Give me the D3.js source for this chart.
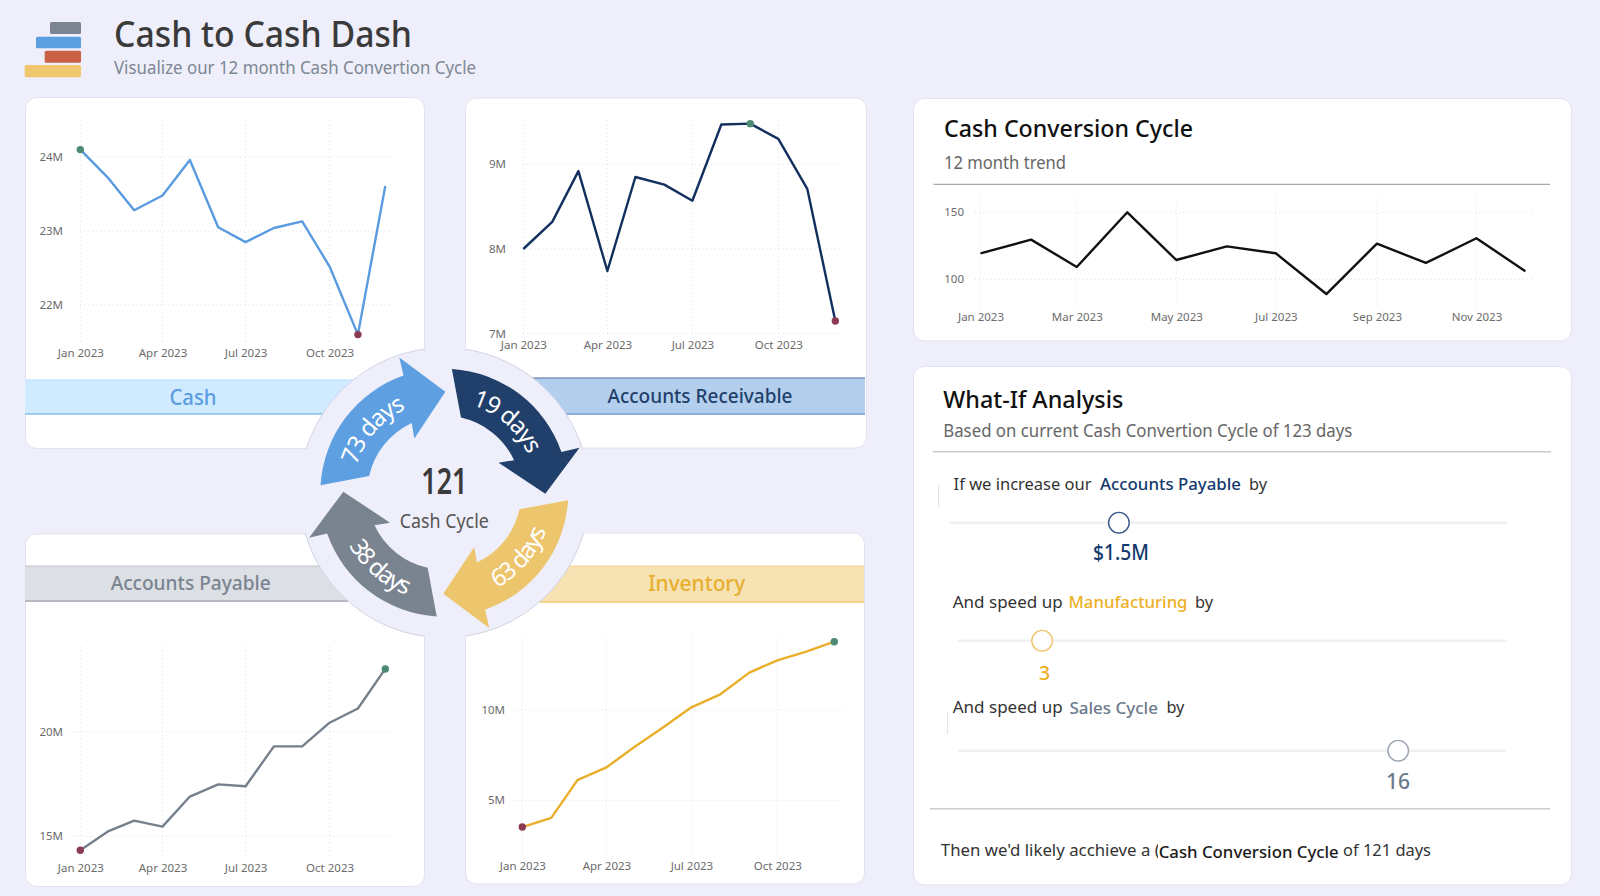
<!DOCTYPE html>
<html>
<head>
<meta charset="utf-8">
<title>Cash to Cash Dash</title>
<script src="https://cdn.jsdelivr.net/npm/d3@7"></script>
<style>
  body { margin: 0; background: #eeeffa; }
  text { font-family: "Noto Sans", "Open Sans", sans-serif; }
</style>
</head>
<body>
<div id="dash"></div>
<script>
// Data
const months = d3.range(12).map(i => new Date(2023, i, 1));
const cashValues = [24.10, 23.71, 23.28, 23.48, 23.96, 23.05, 22.85, 23.04, 23.13, 22.52, 21.60, 23.61];
const receivableValues = [8.00, 8.32, 8.92, 7.74, 8.85, 8.76, 8.57, 9.47, 9.48, 9.30, 8.71, 7.15];
const payableValues = [14.33, 15.25, 15.75, 15.46, 16.90, 17.48, 17.39, 19.30, 19.30, 20.43, 21.11, 23.00];
const inventoryValues = [3.52, 4.03, 6.12, 6.82, 7.95, 9.04, 10.15, 10.87, 12.07, 12.75, 13.23, 13.78];
const cycleValues = [119.4, 129.6, 109.2, 150, 114.4, 124.6, 119.4, 89, 126.6, 112.2, 130.6, 106];

const quarterTicks = [0, 3, 6, 9].map(i => months[i]);
const evenMonthTicks = [0, 2, 4, 6, 8, 10].map(i => months[i]);
const cashTicks = [22, 23, 24];
const receivableTicks = [7, 8, 9];
const payableTicks = [15, 20];
const inventoryTicks = [5, 10];
const cycleTicks = [100, 150];

const arrowLabels = ["73 days", "19 days", "63 days", "38 days"];
const arrowColors = ["#5e9fe2", "#213f6b", "#edc56d", "#7a8491"];

const sliderValues = [1.5, 3, 16];
const sliderLabels = ["$1.5M", "3", "16"];
const sliderMax = [5, 20, 20];

const bg = "#eeeffa";
const svg = d3.select("#dash").append("svg")
    .attr("width", 1600)
    .attr("height", 896)
    .style("display", "block");

svg.append("rect").attr("width", 1600).attr("height", 896).attr("fill", bg);

// Text helper, width squeezes the text to the measured width of the reference
function label(x, y, str, o = {}) {
  const t = svg.append("text")
      .attr("x", x)
      .attr("y", y)
      .attr("dy", "0.35em")
      .attr("text-anchor", o.anchor || "start")
      .attr("fill", o.fill || "#333")
      .attr("font-size", o.size || 18)
      .attr("font-weight", o.weight || 400)
      .text(str);
  if (o.width) t.attr("textLength", o.width).attr("lengthAdjust", "spacingAndGlyphs");
  return t;
}

function card(x, y, w, h) {
  svg.append("rect")
      .attr("x", x).attr("y", y).attr("width", w).attr("height", h)
      .attr("rx", 11)
      .attr("fill", "#fff")
      .attr("stroke", "#e2e3f0");
}

// Header
[[50, 22, 31, 12, "#7b8490"], [36, 36.7, 45, 11.6, "#5b9fe0"], [44.7, 50.7, 36.3, 12, "#cc6245"], [24.7, 65, 56.3, 12.3, "#f0c76e"]]
  .forEach(([x, y, w, h, c]) => {
    svg.append("rect").attr("x", x).attr("y", y).attr("width", w).attr("height", h).attr("rx", 1.5).attr("fill", c);
  });
label(114, 34, "Cash to Cash Dash", { size: 36, weight: 500, fill: "#3a3a3a", width: 298 });
label(114, 68, "Visualize our 12 month Cash Convertion Cycle", { size: 18, fill: "#7d8794", width: 362 });

// Line chart panel, built with real scales and axes
function linePanel(p) {
  const x = d3.scaleTime().domain([months[0], months[11]]).range(p.xRange);
  const y = d3.scaleLinear().domain(p.yDomain).range(p.yRange);
  const g = svg.append("g");

  // dotted grid
  g.selectAll(".gx").data(p.xTicks).join("line")
      .attr("x1", d => x(d)).attr("x2", d => x(d))
      .attr("y1", p.gridTop).attr("y2", p.gridBottom)
      .attr("stroke", "#e2e2e2").attr("stroke-dasharray", "1,3");
  g.selectAll(".gy").data(p.yTicks).join("line")
      .attr("x1", p.gridLeft).attr("x2", p.gridRight)
      .attr("y1", d => y(d)).attr("y2", d => y(d))
      .attr("stroke", "#e2e2e2").attr("stroke-dasharray", "1,3");

  const axisX = g.append("g")
      .attr("transform", `translate(0,${p.axisY})`)
      .call(d3.axisBottom(x).tickValues(p.xTicks).tickFormat(d3.timeFormat("%b %Y")).tickSize(0).tickPadding(0));
  const axisY = g.append("g")
      .attr("transform", `translate(${p.axisX},0)`)
      .call(d3.axisLeft(y).tickValues(p.yTicks).tickFormat(p.yFormat).tickSize(0).tickPadding(0));
  [axisX, axisY].forEach(a => {
    a.select(".domain").remove();
    a.selectAll("text")
        .attr("fill", "#6b6b6b")
        .style("font-family", '"Noto Sans", sans-serif')
        .style("font-size", "11.5px");
  });
  axisX.selectAll("text").attr("y", 0).attr("dy", "0.35em");

  const line = d3.line().x((d, i) => x(months[i])).y(d => y(d));
  g.append("path")
      .datum(p.values)
      .attr("fill", "none")
      .attr("stroke", p.color)
      .attr("stroke-width", 2.4)
      .attr("stroke-linejoin", "round")
      .attr("d", line);

  if (p.dots) {
    [[d3.maxIndex(p.values), "#4c8a72"], [d3.minIndex(p.values), "#8c3a52"]].forEach(([i, c]) => {
      g.append("circle")
          .attr("cx", x(months[i])).attr("cy", y(p.values[i]))
          .attr("r", 3.7).attr("fill", c);
    });
  }
}

function band(x, y, w, h, fill, top, bottom, bottomWidth) {
  svg.append("rect").attr("x", x).attr("y", y).attr("width", w).attr("height", h).attr("fill", fill);
  svg.append("line").attr("x1", x).attr("x2", x + w).attr("y1", y).attr("y2", y).attr("stroke", top);
  svg.append("line").attr("x1", x).attr("x2", x + w).attr("y1", y + h).attr("y2", y + h)
      .attr("stroke", bottom).attr("stroke-width", bottomWidth);
}

const millions = d => d + "M";

// Cash
card(25.5, 97.5, 399, 351);
band(25, 380, 399, 34, "#d0eaff", "#b5dcfa", "#5b9fe0", 1);
label(193, 397, "Cash", { anchor: "middle", size: 22, weight: 500, fill: "#5b9de0", width: 47 });
linePanel({
  values: cashValues, color: "#5a9be0", dots: true,
  xRange: [80.3, 385.3], yDomain: [22, 24], yRange: [305, 157],
  xTicks: quarterTicks, yTicks: cashTicks, yFormat: millions,
  gridTop: 120, gridBottom: 343, gridLeft: 80, gridRight: 392, axisY: 353, axisX: 63
});

// Accounts Receivable
card(465.5, 98, 401, 350);
band(466, 378, 399, 36, "#b3cfed", "#4e6d99", "#8badd8", 2);
label(700, 396, "Accounts Receivable", { anchor: "middle", size: 20, weight: 500, fill: "#1f3f6b", width: 185 });
linePanel({
  values: receivableValues, color: "#12305e", dots: true,
  xRange: [523.3, 835.3], yDomain: [7, 9], yRange: [333.7, 164.3],
  xTicks: quarterTicks, yTicks: receivableTicks, yFormat: millions,
  gridTop: 120, gridBottom: 334, gridLeft: 523, gridRight: 843, axisY: 344.7, axisX: 506
});

// Accounts Payable
card(25.5, 534, 399, 352.5);
band(25, 566, 399, 35, "#dcdfe3", "#c2c6cc", "#b5b9c0", 2);
label(190.7, 583, "Accounts Payable", { anchor: "middle", size: 20, weight: 500, fill: "#7a8491", width: 160 });
linePanel({
  values: payableValues, color: "#76808c", dots: true,
  xRange: [80.3, 385.3], yDomain: [15, 20], yRange: [836.3, 731.7],
  xTicks: quarterTicks, yTicks: payableTicks, yFormat: millions,
  gridTop: 647, gridBottom: 858, gridLeft: 70, gridRight: 392, axisY: 868, axisX: 63
});

// Inventory
card(465.5, 533, 399, 351);
band(466, 566, 398, 36, "#f6e2b3", "#f5d58e", "#f5d58e", 2);
label(696.7, 583, "Inventory", { anchor: "middle", size: 22, weight: 500, fill: "#e8ae2e", width: 97 });
linePanel({
  values: inventoryValues, color: "#e9ae2a", dots: true,
  xRange: [522.3, 834.3], yDomain: [5, 10], yRange: [800.3, 710],
  xTicks: quarterTicks, yTicks: inventoryTicks, yFormat: millions,
  gridTop: 637, gridBottom: 857, gridLeft: 513, gridRight: 842, axisY: 866, axisX: 505
});

// Centre wheel
const cx = 444.3, cy = 492.7, wheelR = 145;
const rad = deg => (deg - 90) * Math.PI / 180;
const polar = (r, deg) => [cx + r * Math.cos(rad(deg)), cy + r * Math.sin(rad(deg))];

svg.append("circle").attr("cx", cx).attr("cy", cy).attr("r", wheelR)
    .attr("fill", bg).attr("stroke", "#d2d4e6");
// the gaps between the cards hide the ring outline
svg.append("rect").attr("x", 425).attr("y", 330).attr("width", 40).attr("height", 330).attr("fill", bg);
svg.append("rect").attr("x", 290).attr("y", 449).attr("width", 310).attr("height", 84).attr("fill", bg);

function arrowPath(rot) {
  const p = d3.path();
  p.moveTo(...polar(124, -86.5 + rot));
  p.arc(cx, cy, 124, rad(-86.5 + rot), rad(-19.2 + rot));
  p.lineTo(...polar(142.5, -18.4 + rot));
  p.lineTo(...polar(101, 0.6 + rot));
  p.lineTo(...polar(62, -28.9 + rot));
  p.lineTo(...polar(77, -25 + rot));
  p.arc(cx, cy, 77, rad(-25 + rot), rad(-77.5 + rot), true);
  p.closePath();
  return p.toString();
}

const defs = svg.append("defs");
arrowLabels.forEach((txt, i) => {
  const rot = i * 90;
  const mid = -49 + rot;
  svg.append("path").attr("d", arrowPath(rot)).attr("fill", arrowColors[i]);

  // upper arrows read clockwise, lower ones counter-clockwise so the text stays upright
  const flip = i === 2 || i === 3;
  const r = flip ? 109 : 92;
  const from = flip ? mid + 45 : mid - 45;
  const to = flip ? mid - 45 : mid + 45;
  const tp = d3.path();
  tp.moveTo(...polar(r, from));
  tp.arc(cx, cy, r, rad(from), rad(to), flip);
  defs.append("path").attr("id", "arrow-text-" + i).attr("d", tp.toString());

  svg.append("text")
      .attr("fill", "#fff")
      .attr("font-size", 24)
      .attr("letter-spacing", "-1.4px")
      .attr("text-anchor", "middle")
      .append("textPath")
      .attr("href", "#arrow-text-" + i)
      .attr("startOffset", "50%")
      .text(txt);
});

label(cx, 481.7, "121", { anchor: "middle", size: 36, weight: 600, fill: "#3a3a3a", width: 46 });
label(cx, 521, "Cash Cycle", { anchor: "middle", size: 19, fill: "#555", width: 89 });

// Cash Conversion Cycle card
card(913.5, 98.5, 658, 242.5);
label(944, 129, "Cash Conversion Cycle", { size: 24, weight: 500, fill: "#111", width: 249 });
label(944, 162.7, "12 month trend", { size: 18, fill: "#666", width: 122 });
svg.append("line").attr("x1", 933.5).attr("x2", 1550).attr("y1", 184.3).attr("y2", 184.3).attr("stroke", "#a9a9a9").attr("stroke-width", 1.2);
linePanel({
  values: cycleValues, color: "#111",
  xRange: [980.5, 1525.4], yDomain: [100, 150], yRange: [279.3, 212.3],
  xTicks: evenMonthTicks, yTicks: cycleTicks, yFormat: d => d,
  gridTop: 197, gridBottom: 308, gridLeft: 975, gridRight: 1532, axisY: 317, axisX: 964
});

// What-If card
card(913.5, 366.5, 658, 518.5);
label(943.3, 400, "What-If Analysis", { size: 24, weight: 500, fill: "#111", width: 180 });
label(943.3, 430.7, "Based on current Cash Convertion Cycle of 123 days", { size: 18, fill: "#666", width: 409 });
svg.append("line").attr("x1", 932.6).attr("x2", 1551).attr("y1", 451.7).attr("y2", 451.7).attr("stroke", "#ccc").attr("stroke-width", 1.5);

const darkText = "#333";
label(953.6, 484, "If we increase our", { size: 17, fill: darkText, width: 138 });
label(1100, 484, "Accounts Payable", { size: 17, weight: 500, fill: "#143a6e", width: 141 });
label(1249, 484, "by", { size: 17, fill: darkText, width: 18 });
label(952.7, 602.3, "And speed up", { size: 17, fill: darkText, width: 110 });
label(1068.5, 602.3, "Manufacturing", { size: 17, weight: 500, fill: "#eeb024", width: 119 });
label(1195, 602.3, "by", { size: 17, fill: darkText, width: 18 });
label(952.7, 707.3, "And speed up", { size: 17, fill: darkText, width: 110 });
label(1069.4, 708, "Sales Cycle", { size: 17, weight: 500, fill: "#6c7a8c", width: 88.5 });
label(1166.4, 706.7, "by", { size: 17, fill: darkText, width: 18 });

// stray slicer edges
[[938.6, 485, 506.7], [947.6, 712.7, 734]].forEach(([x, y1, y2]) => {
  svg.append("line").attr("x1", x).attr("x2", x).attr("y1", y1).attr("y2", y2).attr("stroke", "#e2e2e2");
});

// Sliders, handle position comes from the value
[
  { y: 522.7, range: [950, 1507], stroke: "#3d5a8a", fill: "#143a6e", labelX: 1121, labelY: 552.7, size: 22, labelW: 56 },
  { y: 640.7, range: [958, 1507], stroke: "#f0c36d", fill: "#eeb024", labelX: 1044.6, labelY: 673.3, size: 20 },
  { y: 750.7, range: [958, 1506], stroke: "#9aa4b2", fill: "#6c7a8c", labelX: 1398, labelY: 781.7, size: 21 }
].forEach((s, i) => {
  const sx = d3.scaleLinear().domain([0, sliderMax[i]]).range(s.range);
  svg.append("line")
      .attr("x1", s.range[0]).attr("x2", s.range[1])
      .attr("y1", s.y).attr("y2", s.y)
      .attr("stroke", "#f0f0f0").attr("stroke-width", 2.5);
  svg.append("circle")
      .attr("cx", sx(sliderValues[i]) + 1.8).attr("cy", s.y).attr("r", 10.3)
      .attr("fill", "#fff").attr("stroke", s.stroke).attr("stroke-width", 1.4);
  label(s.labelX, s.labelY, sliderLabels[i], { anchor: "middle", size: s.size, weight: 500, fill: s.fill, width: s.labelW });
});

svg.append("line").attr("x1", 930).attr("x2", 1550).attr("y1", 808.7).attr("y2", 808.7).attr("stroke", "#ccc").attr("stroke-width", 1.5);

label(940.8, 850, "Then we'd likely acchieve a (", { size: 17, fill: darkText, width: 219 });
svg.append("rect").attr("x", 1158).attr("y", 838).attr("width", 182).attr("height", 26).attr("fill", "#fff");
label(1158.7, 852, "Cash Conversion Cycle", { size: 17, weight: 500, fill: "#1a1a1a", width: 180 });
label(1343, 850, "of 121 days", { size: 17, fill: darkText, width: 88 });
</script>
</body>
</html>
